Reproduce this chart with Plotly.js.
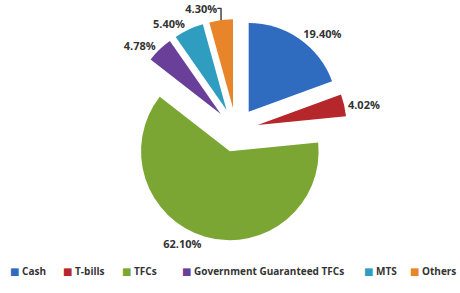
<!DOCTYPE html>
<html><head><meta charset="utf-8">
<script src="https://cdn.plot.ly/plotly-3.0.1.min.js"></script>
<style>html,body{margin:0;padding:0;background:#fff}#chart{width:460px;height:293px}</style>
</head><body><div id="chart"></div>
<script>
var categories = ["Cash", "T-bills", "TFCs", "Government Guaranteed TFCs", "MTS", "Others"];
var shares = [19.40, 4.02, 62.10, 4.78, 5.40, 4.30];
var colors = ["#2f6bbf", "#b5272b", "#7ba634", "#6a3f9a", "#2f9dc0", "#e8852a"];

// legend layout (pixel x of each legend entry's marker)
var legendX = [8, 61, 120, 180, 362, 408];
var legendY = 271;
var FONT = "'Open Sans', 'DejaVu Sans', sans-serif";

var trace = {
  type: "pie",
  labels: categories,
  values: shares,
  sort: false,
  direction: "clockwise",
  rotation: 0,
  pull: shares.map(function(){return 0.25;}),
  marker: {colors: colors, line: {color: "#ffffff", width: 0}},
  textposition: "outside",
  texttemplate: "%{value:.2f}%",
  textfont: {family: FONT, size: 11, color: "#333333", weight: "bold"},
  hoverinfo: "label+value",
  domain: {x: [0.026, 1], y: [0, 1]}
};

var annotations = categories.map(function(c, i){
  return {
    xref: "paper", yref: "paper",
    x: legendX[i] / 460, y: 1 - (legendY - 19) / 222,
    xanchor: "left", yanchor: "middle",
    showarrow: false,
    text: '<span style="color:' + colors[i] + '">■</span> ' + c,
    font: {family: FONT, size: 10, color: "#333333", weight: "bold"}
  };
});

var layout = {
  width: 460, height: 293,
  margin: {l: 0, r: 0, t: 19, b: 52},
  paper_bgcolor: "#ffffff",
  showlegend: false,
  annotations: annotations
};

Plotly.newPlot("chart", [trace], layout, {displayModeBar: false, staticPlot: true});
</script></body></html>
